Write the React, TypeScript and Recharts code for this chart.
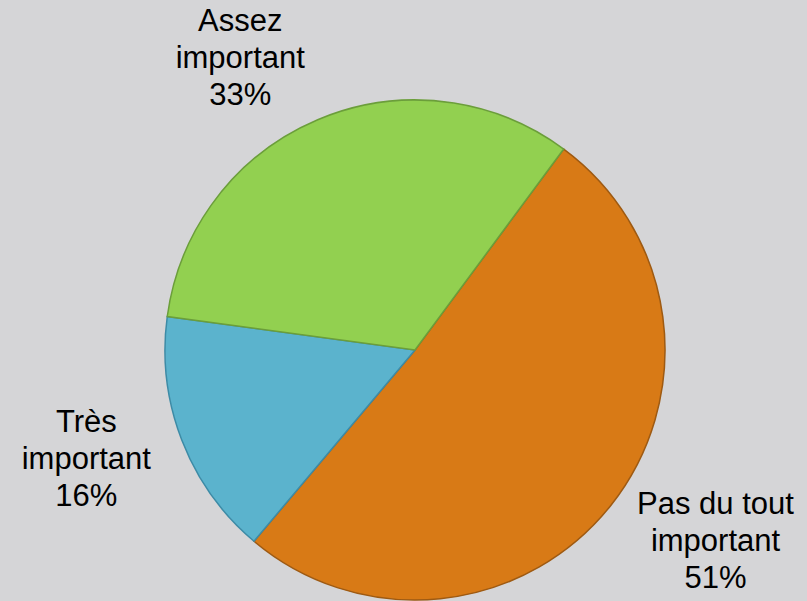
import React from "react";
import { PieChart, Pie, Cell } from "recharts";

const categories = ["Pas du tout important", "Très important", "Assez important"];
const values = [51, 16, 33];
const fills = ["#d87a16", "#5bb3cd", "#92d050"];
const strokes = ["#9e5a12", "#3d8ba6", "#6b9e3a"];

const data = categories.map((name, i) => ({ name, value: values[i] }));

const FONT_SIZE = 31;
const LINE_H = 37;
const FONT_FAMILY = "'Liberation Sans', Arial, sans-serif";
const RAD = Math.PI / 180;

let ctx: CanvasRenderingContext2D | null = null;
function measure(text: string): number {
  if (!ctx) {
    const c = document.createElement("canvas");
    ctx = c.getContext("2d");
  }
  if (!ctx) return text.length * FONT_SIZE * 0.5;
  ctx.font = `${FONT_SIZE}px ${FONT_FAMILY}`;
  return ctx.measureText(text).width;
}

function splitName(name: string): string[] {
  const idx = name.lastIndexOf(" ");
  if (idx < 0) return [name];
  return [name.slice(0, idx), name.slice(idx + 1)];
}

const renderLabel = (props: any) => {
  const { cx, cy, midAngle, outerRadius, percent, name } = props;
  const lines = [...splitName(name), `${Math.round(percent * 100)}%`];
  const w = Math.max(...lines.map(measure));
  const h = lines.length * LINE_H - 16;
  const ux = Math.cos(-midAngle * RAD);
  const uy = Math.sin(-midAngle * RAD);
  const r = outerRadius + 33;
  const ax = cx + ux * r;
  const ay = cy + uy * r;
  const fx = Math.sign(ux) * Math.min(1, Math.abs(ux) * 3);
  const fy = Math.sign(uy) * Math.pow(Math.abs(uy), 3.2);
  const bx = ax + fx * (w / 2);
  const by = ay + fy * (h / 2) + 4;
  return (
    <text
      x={bx}
      y={by}
      textAnchor="middle"
      fill="#000"
      fontSize={FONT_SIZE}
      fontFamily={FONT_FAMILY}
    >
      {lines.map((ln, i) => (
        <tspan
          key={i}
          x={bx}
          y={by + (i - (lines.length - 1) / 2) * LINE_H + FONT_SIZE * 0.358}
        >
          {ln}
        </tspan>
      ))}
    </text>
  );
};

export default function App() {
  return (
    <div
      style={{
        position: "absolute",
        left: 0,
        top: 0,
        width: 807,
        height: 601,
        background: "#d5d5d7",
        overflow: "hidden",
      }}
    >
      <PieChart width={807} height={601} margin={{ top: 0, right: 0, bottom: 0, left: 0 }}>
        <Pie
          data={data}
          dataKey="value"
          nameKey="name"
          cx={415}
          cy={350}
          outerRadius={250}
          startAngle={53.5}
          endAngle={-306.5}
          label={renderLabel}
          labelLine={false}
          isAnimationActive={false}
        >
          {data.map((d, i) => (
            <Cell key={d.name} fill={fills[i]} stroke={strokes[i]} strokeWidth={1.5} />
          ))}
        </Pie>
      </PieChart>
    </div>
  );
}
